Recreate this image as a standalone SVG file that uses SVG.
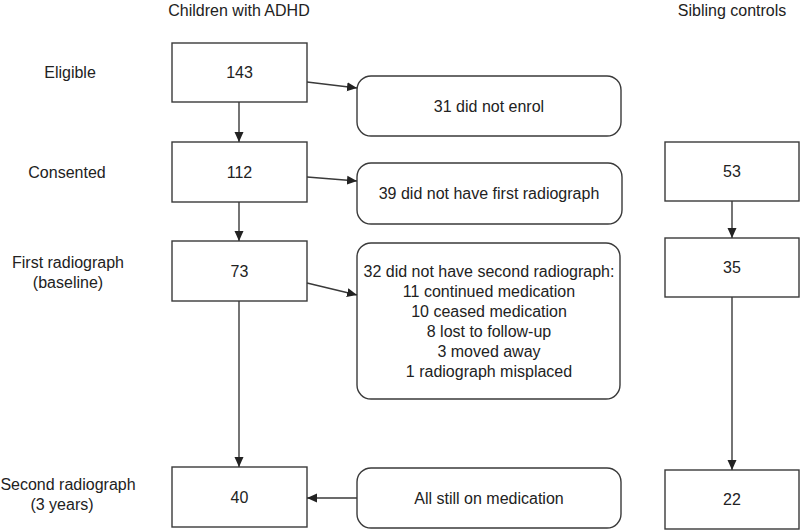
<svg xmlns="http://www.w3.org/2000/svg" width="800" height="532" viewBox="0 0 800 532">
<defs>
<style>
.box{fill:#fff;stroke:#3a3a3a;stroke-width:1.4}
.t{font-family:"Liberation Sans",Arial,sans-serif;font-size:16px;fill:#222;text-anchor:middle}
.c{stroke:#3a3a3a;stroke-width:1.4;fill:none;marker-end:url(#ah)}
</style>
<marker id="ah" viewBox="0 0 10 10" refX="10" refY="5" markerWidth="10" markerHeight="10" markerUnits="userSpaceOnUse" orient="auto">
<path d="M0,0.5 L10,5 L0,9.5 Z" fill="#222"/>
</marker>
</defs>
<rect width="800" height="532" fill="#fff"/>
<g id="headers">
<text class="t" x="239" y="16">Children with ADHD</text>
<text class="t" x="732" y="16">Sibling controls</text>
</g>
<g id="row-labels">
<text class="t" x="70" y="78">Eligible</text>
<text class="t" x="67" y="178">Consented</text>
<text class="t" x="68" y="268">First radiograph</text>
<text class="t" x="68" y="288">(baseline)</text>
<text class="t" x="68" y="490">Second radiograph</text>
<text class="t" x="62" y="510">(3 years)</text>
</g>
<g id="n143"><rect class="box" x="172" y="43" width="135" height="59"/><text class="t" x="239.5" y="78">143</text></g>
<g id="n112"><rect class="box" x="172" y="142" width="135" height="60"/><text class="t" x="239.5" y="178">112</text></g>
<g id="n73"><rect class="box" x="172" y="241" width="135" height="60"/><text class="t" x="239.5" y="277">73</text></g>
<g id="n40"><rect class="box" x="172" y="467" width="135" height="60"/><text class="t" x="239.5" y="503">40</text></g>
<g id="n31"><rect class="box" x="357" y="76" width="264" height="60" rx="14"/><text class="t" x="489" y="112">31 did not enrol</text></g>
<g id="n39"><rect class="box" x="357" y="163" width="265" height="61" rx="14"/><text class="t" x="489" y="199">39 did not have first radiograph</text></g>
<g id="n32"><rect class="box" x="357" y="243" width="263" height="156" rx="14"/>
<text class="t" x="489" y="277">32 did not have second radiograph:</text>
<text class="t" x="489" y="297">11 continued medication</text>
<text class="t" x="489" y="317">10 ceased medication</text>
<text class="t" x="489" y="337">8 lost to follow-up</text>
<text class="t" x="489" y="357">3 moved away</text>
<text class="t" x="489" y="377">1 radiograph misplaced</text>
</g>
<g id="nAll"><rect class="box" x="357" y="468" width="264" height="60" rx="14"/><text class="t" x="489" y="504">All still on medication</text></g>
<g id="n53"><rect class="box" x="665" y="142" width="134" height="59"/><text class="t" x="732" y="177">53</text></g>
<g id="n35"><rect class="box" x="665" y="238" width="134" height="59"/><text class="t" x="732" y="273">35</text></g>
<g id="n22"><rect class="box" x="665" y="470" width="134" height="59"/><text class="t" x="732" y="505">22</text></g>
<g id="connectors">
<line class="c" x1="239" y1="102" x2="239" y2="142"/>
<line class="c" x1="239" y1="202" x2="239" y2="241"/>
<line class="c" x1="239" y1="301" x2="239" y2="467"/>
<line class="c" x1="307" y1="82" x2="357" y2="88"/>
<line class="c" x1="307" y1="177" x2="357" y2="181"/>
<line class="c" x1="307" y1="283" x2="357" y2="295"/>
<line class="c" x1="357" y1="498" x2="307" y2="498"/>
<line class="c" x1="732" y1="201" x2="732" y2="238"/>
<line class="c" x1="732" y1="297" x2="732" y2="470"/>
</g>
</svg>
